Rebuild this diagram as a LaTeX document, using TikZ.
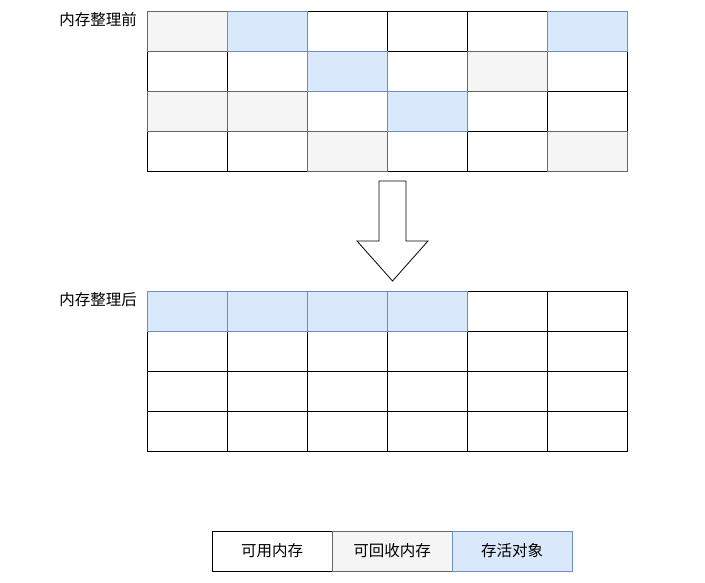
\documentclass[tikz,border=0pt]{standalone}
\usepackage{fontspec}
\setmainfont{Noto Sans CJK SC}
\usetikzlibrary{positioning}

\definecolor{freeblue}{HTML}{DAE8FC}
\definecolor{freeblueline}{HTML}{6C8EBF}
\definecolor{gcgrey}{HTML}{F5F5F5}
\definecolor{gcgreyline}{HTML}{666666}

\tikzset{
  cell/.style={draw, line width=0.8pt, minimum width=80pt, minimum height=40pt, inner sep=0pt, outer sep=0pt, font=\fontsize{15.5}{18}\selectfont},
  usedcell/.style={cell, draw=black, fill=white},
  gccell/.style={cell, draw=gcgreyline, fill=gcgrey},
  livecell/.style={cell, draw=freeblueline, fill=freeblue},
  title/.style={anchor=north east, inner sep=0pt, font=\fontsize{15.5}{18}\selectfont}
}

\begin{document}
\begin{tikzpicture}[x=1pt, y=-1pt]
\useasboundingbox (0,0) rectangle (705,583);
% before compaction
\node[title] (before) at (137,12) {内存整理前};
\foreach \r/\c in {1/3,1/4,1/5,2/1,2/2,2/4,2/6,3/3,3/5,3/6,4/1,4/2,4/4,4/5}
  \node[usedcell] (b-\r-\c) at ({147+80*\c-40},{11+40*\r-20}) {};
\foreach \r/\c in {1/1,2/5,3/1,3/2,4/3,4/6}
  \node[gccell] (b-\r-\c) at ({147+80*\c-40},{11+40*\r-20}) {};
\foreach \r/\c in {1/2,1/6,2/3,3/4}
  \node[livecell] (b-\r-\c) at ({147+80*\c-40},{11+40*\r-20}) {};
% arrow
\coordinate (arrtop) at (392.5,181);
\draw[fill=white, line width=0.8pt] (379,181) -- (406,181) -- (406,241) -- (428,241)
  -- (392.5,281) coordinate (arrtip) -- (357,241) -- (379,241) -- cycle;
% after compaction
\node[title] (after) at (137,292) {内存整理后};
\foreach \r in {1,...,4}
  \foreach \c in {1,...,6}
    \node[usedcell] (a-\r-\c) at ({147+80*\c-40},{291+40*\r-20}) {};
\foreach \c in {1,...,4}
  \node[livecell] (a-1-\c) at ({147+80*\c-40},{291+20}) {};
% legend
\node[usedcell, minimum width=120pt] (leg1) at (272,551) {可用内存};
\node[gccell, minimum width=120pt, right=0pt of leg1] (leg2) {可回收内存};
\node[livecell, minimum width=120pt, right=0pt of leg2] (leg3) {存活对象};
\end{tikzpicture}
\end{document}
